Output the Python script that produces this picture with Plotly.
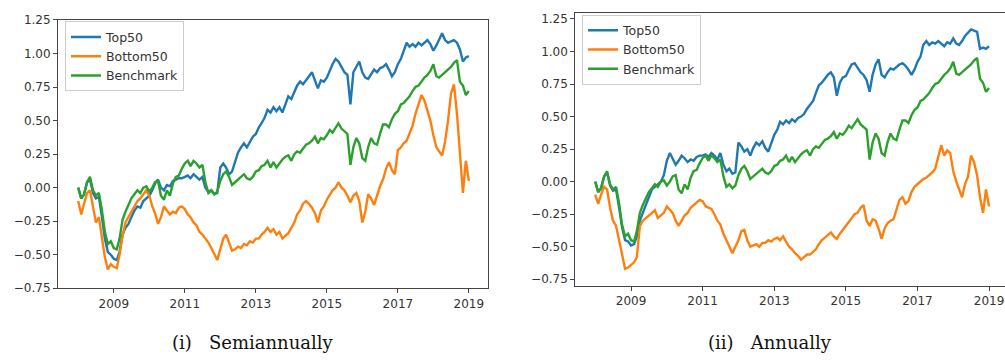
import pandas as pd
import plotly.graph_objects as go

# Month-start observations, Jan 2008 .. Jan 2019 (133 points)
months = pd.date_range("2008-01-01", "2019-01-01", freq="MS")

# Cumulative return of the benchmark (shared by both panels)
benchmark = [
    0.00, -0.08, -0.05, 0.04, 0.08, -0.02, -0.06, -0.04, -0.17, -0.33, -0.42, -0.40,
    -0.45, -0.46, -0.38, -0.24, -0.18, -0.13, -0.08, -0.05, -0.02, -0.04, 0.00, 0.01,
    -0.03, 0.00, 0.04, 0.05, -0.06, -0.09, -0.02, -0.06, 0.03, 0.08, 0.09, 0.14,
    0.18, 0.20, 0.16, 0.20, 0.18, 0.15, 0.17, 0.04, -0.04, -0.02, -0.05, -0.03,
    0.05, 0.10, 0.12, 0.08, 0.02, 0.04, 0.06, 0.08, 0.10, 0.07, 0.06, 0.08,
    0.12, 0.13, 0.16, 0.17, 0.20, 0.15, 0.19, 0.15, 0.18, 0.21, 0.23, 0.24,
    0.20, 0.25, 0.27, 0.26, 0.29, 0.32, 0.33, 0.35, 0.38, 0.33, 0.37, 0.36,
    0.39, 0.43, 0.41, 0.45, 0.48, 0.44, 0.42, 0.40, 0.17, 0.30, 0.37, 0.33,
    0.22, 0.20, 0.30, 0.37, 0.33, 0.32, 0.40, 0.47, 0.47, 0.45, 0.51, 0.55,
    0.57, 0.62, 0.63, 0.66, 0.68, 0.72, 0.75, 0.76, 0.79, 0.82, 0.84, 0.87,
    0.92, 0.83, 0.82, 0.84, 0.86, 0.88, 0.90, 0.93, 0.95, 0.79, 0.76, 0.69,
    0.72,
]

# Semiannual rebalancing
top50_semi = [
    0.00, -0.08, -0.05, 0.04, 0.06, -0.04, -0.08, -0.07, -0.22, -0.38, -0.48, -0.50,
    -0.53, -0.54, -0.48, -0.35, -0.30, -0.27, -0.22, -0.17, -0.14, -0.15, -0.10, -0.08,
    -0.06, -0.02, 0.03, 0.06, 0.00, -0.02, 0.02, 0.01, 0.05, 0.06, 0.07, 0.07,
    0.08, 0.09, 0.07, 0.10, 0.08, 0.06, 0.08, 0.00, -0.03, -0.02, -0.05, -0.04,
    0.15, 0.18, 0.15, 0.10, 0.12, 0.20, 0.26, 0.30, 0.33, 0.30, 0.34, 0.38,
    0.40, 0.45, 0.48, 0.52, 0.58, 0.56, 0.60, 0.57, 0.60, 0.56, 0.62, 0.68,
    0.66, 0.72, 0.76, 0.79, 0.77, 0.80, 0.83, 0.86, 0.80, 0.74, 0.80, 0.79,
    0.82, 0.88, 0.92, 0.96, 0.94, 0.90, 0.86, 0.84, 0.62, 0.86, 0.90, 0.94,
    0.86, 0.82, 0.81, 0.85, 0.88, 0.86, 0.89, 0.90, 0.92, 0.88, 0.83, 0.86,
    0.92, 0.96, 1.02, 1.08, 1.05, 1.07, 1.05, 1.08, 1.06, 1.08, 1.10, 1.07,
    1.02, 1.06, 1.10, 1.15, 1.10, 1.08, 1.09, 1.10, 1.08, 1.03, 0.94, 0.97,
    0.98,
]
bottom50_semi = [
    -0.10, -0.20, -0.12, -0.04, -0.02, -0.15, -0.26, -0.22, -0.38, -0.52, -0.61, -0.57,
    -0.59, -0.60, -0.50, -0.36, -0.26, -0.22, -0.19, -0.14, -0.10, -0.08, -0.05, -0.02,
    -0.06, -0.14, -0.19, -0.27, -0.22, -0.14, -0.17, -0.20, -0.18, -0.19, -0.15, -0.14,
    -0.16, -0.20, -0.22, -0.26, -0.28, -0.33, -0.35, -0.38, -0.41, -0.45, -0.50, -0.54,
    -0.46, -0.38, -0.35, -0.42, -0.47, -0.46, -0.44, -0.45, -0.42, -0.43, -0.40, -0.41,
    -0.38, -0.38, -0.35, -0.33, -0.30, -0.33, -0.31, -0.35, -0.33, -0.38, -0.36, -0.34,
    -0.30, -0.26, -0.20, -0.17, -0.12, -0.10, -0.12, -0.15, -0.19, -0.26, -0.17, -0.14,
    -0.09, -0.05, -0.02, 0.00, 0.04, 0.00, -0.02, -0.06, -0.11, -0.06, -0.04, -0.10,
    -0.26, -0.18, -0.05, -0.08, -0.13, -0.06, 0.01, 0.06, 0.14, 0.19, 0.13, 0.10,
    0.28, 0.30, 0.33, 0.35, 0.40, 0.46, 0.55, 0.62, 0.69, 0.65, 0.58, 0.50,
    0.39, 0.30, 0.27, 0.24, 0.34, 0.50, 0.70, 0.77, 0.55, 0.25, -0.04, 0.20,
    0.05,
]

# Annual rebalancing
top50_annual = [
    0.00, -0.08, -0.05, 0.04, 0.07, -0.03, -0.07, -0.06, -0.20, -0.35, -0.45, -0.46,
    -0.49, -0.48, -0.42, -0.30, -0.24, -0.18, -0.12, -0.06, -0.04, -0.02, 0.00, 0.05,
    0.16, 0.22, 0.18, 0.13, 0.16, 0.20, 0.18, 0.15, 0.17, 0.16, 0.19, 0.20,
    0.20, 0.21, 0.19, 0.22, 0.20, 0.17, 0.22, 0.13, 0.08, 0.10, 0.06, 0.07,
    0.30, 0.27, 0.23, 0.25, 0.20, 0.26, 0.30, 0.28, 0.31, 0.26, 0.23, 0.30,
    0.36, 0.40, 0.46, 0.44, 0.47, 0.45, 0.48, 0.46, 0.49, 0.50, 0.52, 0.56,
    0.59, 0.62, 0.68, 0.74, 0.76, 0.79, 0.82, 0.84, 0.80, 0.66, 0.76, 0.80,
    0.81, 0.86, 0.90, 0.91, 0.88, 0.84, 0.82, 0.78, 0.69, 0.82, 0.90, 0.94,
    0.82, 0.80, 0.84, 0.87, 0.86, 0.88, 0.90, 0.91, 0.89, 0.86, 0.82, 0.86,
    0.92, 0.96, 1.05, 1.08, 1.05, 1.07, 1.06, 1.08, 1.06, 1.04, 1.07, 1.06,
    1.10, 1.06, 1.05, 1.08, 1.12, 1.15, 1.17, 1.16, 1.15, 1.02, 1.03, 1.02,
    1.04,
]
bottom50_annual = [
    -0.10, -0.17, -0.10, -0.04, -0.06, -0.20, -0.30, -0.34, -0.45, -0.55, -0.67, -0.66,
    -0.64, -0.62, -0.58, -0.34, -0.30, -0.28, -0.26, -0.24, -0.22, -0.28, -0.26, -0.24,
    -0.19, -0.22, -0.24, -0.30, -0.34, -0.30, -0.26, -0.24, -0.20, -0.18, -0.16, -0.14,
    -0.15, -0.19, -0.20, -0.21, -0.25, -0.30, -0.33, -0.40, -0.45, -0.50, -0.55, -0.50,
    -0.45, -0.38, -0.37, -0.45, -0.50, -0.49, -0.48, -0.50, -0.47, -0.47, -0.45, -0.46,
    -0.44, -0.43, -0.45, -0.42, -0.46, -0.50, -0.52, -0.55, -0.57, -0.60, -0.58, -0.56,
    -0.56, -0.54, -0.52, -0.48, -0.45, -0.43, -0.41, -0.39, -0.42, -0.44, -0.40, -0.37,
    -0.34, -0.31, -0.28, -0.25, -0.24, -0.20, -0.18, -0.30, -0.34, -0.29, -0.30, -0.36,
    -0.44, -0.36, -0.32, -0.30, -0.29, -0.22, -0.14, -0.12, -0.17, -0.15, -0.08, -0.04,
    -0.02, 0.00, 0.02, 0.03, 0.05, 0.07, 0.10, 0.20, 0.28, 0.20, 0.24, 0.22,
    0.08, 0.00, -0.06, -0.12, -0.02, 0.04, 0.20, 0.15, 0.05, -0.12, -0.24, -0.06,
    -0.19,
]

for series in (benchmark, top50_semi, bottom50_semi, top50_annual, bottom50_annual):
    assert len(series) == len(months)

series_names = ["Top50", "Bottom50", "Benchmark"]
series_colors = ["#1f77b4", "#ff7f0e", "#2ca02c"]

y_tick_values = [-0.75, -0.50, -0.25, 0.00, 0.25, 0.50, 0.75, 1.00, 1.25]
y_tick_text = ["\u22120.75", "\u22120.50", "\u22120.25", "0.00", "0.25", "0.50", "0.75", "1.00", "1.25"]
x_tick_years = ["2009", "2011", "2013", "2015", "2017", "2019"]

captions = ["(i)&nbsp;&nbsp;&nbsp;Semiannually", "(ii)&nbsp;&nbsp;&nbsp;Annually"]

W, H = 1005, 362

fig = go.Figure()

panels = [
    ("x", "y", "legend", [top50_semi, bottom50_semi, benchmark]),
    ("x2", "y2", "legend2", [top50_annual, bottom50_annual, benchmark]),
]
for xa, ya, leg, data in panels:
    for name, color, values in zip(series_names, series_colors, data):
        fig.add_trace(go.Scatter(
            x=months, y=values, mode="lines", name=name,
            line=dict(color=color, width=2.4),
            xaxis=xa, yaxis=ya, legend=leg,
        ))

tick_font = dict(family="DejaVu Sans", size=12, color="#333333")
axis_common = dict(
    showgrid=False, zeroline=False, showline=True, linecolor="#444444",
    linewidth=1, ticks="outside", ticklen=4, tickcolor="#444444",
    tickfont=tick_font,
)
x_ticks = dict(
    tickmode="array",
    tickvals=[f"{y}-01-01" for y in x_tick_years],
    ticktext=x_tick_years,
)
y_ticks = dict(tickmode="array", tickvals=y_tick_values, ticktext=y_tick_text)

legend_style = dict(
    bgcolor="rgba(255,255,255,0.8)", bordercolor="#cccccc", borderwidth=1,
    font=dict(family="DejaVu Sans", size=12.5, color="#333333"),
    xanchor="left", yanchor="top", tracegroupgap=0,
)

fig.update_layout(
    width=W, height=H,
    margin=dict(l=0, r=0, t=0, b=0),
    paper_bgcolor="white", plot_bgcolor="white",
    showlegend=True,
    xaxis=dict(domain=[58 / W, 488 / W], range=["2007-06-07", "2019-07-17"],
               anchor="y", mirror=True, **x_ticks, **axis_common),
    yaxis=dict(domain=[1 - 292.7 / H, 1 - 13.3 / H], range=[-0.751, 1.251],
               anchor="x", mirror=True, **y_ticks, **axis_common),
    xaxis2=dict(domain=[575.3 / W, 1.0], range=["2007-06-12", "2019-06-13"],
                anchor="y2", mirror=True, **x_ticks, **axis_common),
    yaxis2=dict(domain=[1 - 290 / H, 1 - 6.3 / H], range=[-0.80, 1.295],
                anchor="x2", mirror=False, **y_ticks, **axis_common),
    legend=dict(x=65 / W, y=1 - 15 / H, **legend_style),
    legend2=dict(x=582 / W, y=1 - 8 / H, **legend_style),
)

for text, cx in zip(captions, [253, 770]):
    fig.add_annotation(
        text=text, x=cx / W, y=1 - 349 / H, xref="paper", yref="paper",
        xanchor="center", yanchor="middle", showarrow=False,
        font=dict(family="DejaVu Serif", size=18, color="#111111"),
    )

fig.write_html("out.html")
